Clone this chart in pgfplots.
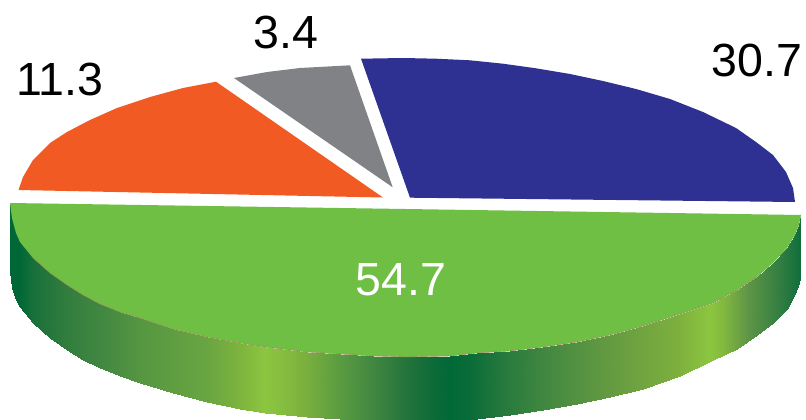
\documentclass[border=0pt]{standalone}
\usepackage{fontspec}
\setmainfont{Liberation Sans}
\usepackage{pgfplots}
\pgfplotsset{compat=1.18}

\definecolor{pieblue}{RGB}{46,49,146}
\definecolor{pieorange}{RGB}{241,90,34}
\definecolor{piegray}{RGB}{128,130,133}
\definecolor{piegreen}{RGB}{110,191,68}
\definecolor{rimline}{RGB}{160,130,90}

\begin{document}
\begin{tikzpicture}
\begin{axis}[
  width=806pt, height=420pt, scale only axis,
  xmin=0, xmax=806, ymin=0, ymax=420,
  y dir=reverse,
  hide axis,
  % stops are x-10, read off the rim
  colormap={side}{
    rgb255(0pt)=(0,104,55)
    rgb255(10pt)=(0,104,55)
    rgb255(23pt)=(25,112,58)
    rgb255(57pt)=(50,125,62)
    rgb255(90pt)=(65,135,65)
    rgb255(130pt)=(85,150,65)
    rgb255(197pt)=(105,165,65)
    rgb255(230pt)=(125,180,62)
    rgb255(255pt)=(140,198,63)
    rgb255(280pt)=(130,185,62)
    rgb255(297pt)=(120,175,62)
    rgb255(330pt)=(90,155,65)
    rgb255(363pt)=(65,135,65)
    rgb255(397pt)=(35,115,60)
    rgb255(420pt)=(15,108,57)
    rgb255(440pt)=(0,104,55)
    rgb255(460pt)=(10,108,57)
    rgb255(490pt)=(35,120,60)
    rgb255(533pt)=(65,135,65)
    rgb255(600pt)=(100,155,65)
    rgb255(667pt)=(125,175,62)
    rgb255(700pt)=(140,198,63)
    rgb255(713pt)=(130,185,62)
    rgb255(737pt)=(95,150,70)
    rgb255(770pt)=(50,125,65)
    rgb255(791pt)=(15,110,60)
  },
  point meta min=10, point meta max=801,
]
% rim of the disc, top edge row then bottom edge row
\addplot[surf, shader=interp, mesh/rows=2, point meta=x] coordinates {
  (10,203) (12,218) (16,233) (20,242) (33,258) (50,273) (67,285) (83,295)
  (100,304) (120,312) (140,318) (173,329) (207,337) (240,343) (265,347) (307,352)
  (340,354) (373,356) (407,357) (450,356) (477,353) (510,351) (543,347) (577,342)
  (610,335) (643,326) (680,314) (713,303) (737,290) (757,277) (773,263) (787,248)
  (795,235) (799,225) (801,215)

  (10,272) (12,288) (16,300) (20,307) (33,323) (50,338) (67,350) (83,360)
  (100,368) (120,376) (140,383) (173,393) (207,402) (240,409) (265,413) (307,417)
  (340,419) (373,420.5) (407,421.5) (450,421.5) (477,419) (510,415) (543,410) (577,403.5)
  (610,397) (643,389) (680,376) (713,360) (737,349) (757,335) (773,323) (787,309)
  (795,294) (799,283) (801,273)
};
% 54.7
\addplot[fill=piegreen, draw=none, no marks] coordinates {
  (10,203) (12,218) (16,233) (20,242) (33,258) (50,273) (67,285) (83,295)
  (100,304) (120,312) (140,318) (173,329) (207,337) (240,343) (265,347) (307,352)
  (340,354) (373,356) (407,357) (450,356) (477,353) (510,351) (543,347) (577,342)
  (610,335) (643,326) (680,314) (713,303) (737,290) (757,277) (773,263) (787,248)
  (795,235) (799,225) (801,215)
} -- cycle;
\addplot[rimline, line width=0.4pt, no marks] coordinates {
  (33,258) (50,273) (67,285) (83,295)
  (100,304) (120,312) (140,318) (173,329) (207,337) (240,343) (265,347) (307,352)
  (340,354) (373,356) (407,357) (450,356) (477,353) (510,351) (543,347) (577,342)
  (610,335) (643,326) (680,314) (713,303) (737,290) (757,277)
};
% 30.7
\addplot[fill=pieblue, draw=none, no marks] coordinates {
  (410,197.7) (361,58.7) (403,58) (436,58.7) (470,60.3) (503,63.7) (536,68.3)
  (570,74) (603,81) (636,89) (670,99) (703,112) (736,128) (756,142) (773,155)
  (786,172) (793,188) (795,202)
} -- cycle;
% 3.4
\addplot[fill=piegray, draw=none, no marks] coordinates {
  (392.7,187.3) (234,78) (267,72) (300,68) (350,65.3)
} -- cycle;
% 11.3
\addplot[fill=pieorange, draw=none, no marks] coordinates {
  (383,197.5) (18.5,190) (23,177) (33,160) (50,143) (67,132) (90,120) (117,108)
  (150,97) (183,88) (216,81.7)
} -- cycle;

\node[inner sep=0pt, font=\fontsize{46.5}{50}\selectfont] at (axis cs:757,60) {30.7};
\node[inner sep=0pt, font=\fontsize{46.5}{50}\selectfont] at (axis cs:286,32) {3.4};
\node[inner sep=0pt, font=\fontsize{46.5}{50}\selectfont] at (axis cs:60,79) {11.3};
\node[inner sep=0pt, text=white, font=\fontsize{46.5}{50}\selectfont] at (axis cs:401,280) {54.7};
\end{axis}
% hide axis leaves no frame, so fix the page size here
\path (0,0) rectangle (806pt,420pt);
\end{tikzpicture}
\end{document}
